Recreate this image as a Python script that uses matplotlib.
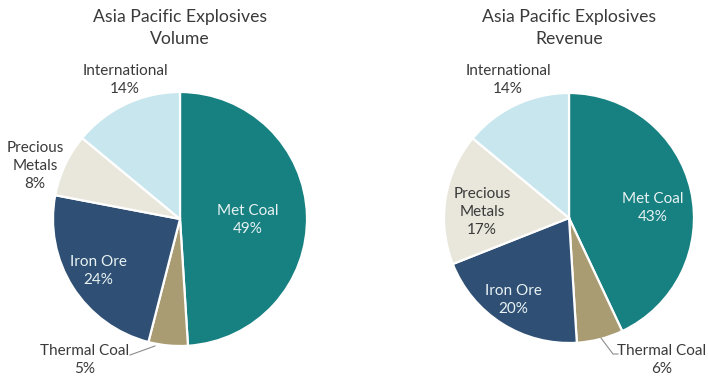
import matplotlib
matplotlib.use("Agg")
import matplotlib.pyplot as plt

categories = ["Met Coal", "Thermal Coal", "Iron Ore", "Precious Metals", "International"]
label_text = ["Met Coal", "Thermal Coal", "Iron Ore", "Precious\nMetals", "International"]
volume = [49, 5, 24, 8, 14]
revenue = [43, 6, 20, 17, 14]
titles = ["Asia Pacific Explosives\nVolume", "Asia Pacific Explosives\nRevenue"]

colors = ["#178081", "#a99b72", "#2f5074", "#e9e7dc", "#c8e6ee"]
text_dark = "#3a3a3a"
text_light = "#e8f2f2"

W, H = 708, 379
fig = plt.figure(figsize=(W / 100, H / 100), dpi=100)
FONT = "Lato"

# layout: (center x px, center y px from top, radius px)
layouts = [(180, 219, 127), (569, 218, 125)]
label_pos = [
    [(0.535, -0.008), (-0.748, -1.11), (-0.646, -0.41), (-1.142, 0.417), (-0.433, 1.094)],
    [(0.672, 0.08), (0.744, -1.136), (-0.448, -0.656), (-0.696, 0.048), (-0.488, 1.104)],
]
inside = [
    [True, False, True, False, False],
    [True, False, True, False, False],
]
leaders = [
    [(-0.394, -1.071), (-0.197, -1.0)],
    [(0.392, -1.088), (0.352, -1.088), (0.256, -0.96)],
]

for k, (vals, title) in enumerate(zip([volume, revenue], titles)):
    cx, cy, R = layouts[k]
    S = 360
    ax = fig.add_axes([(cx - S / 2) / W, ((H - cy) - S / 2) / H, S / W, S / H])
    ax.pie(vals, colors=colors, startangle=90, counterclock=False, radius=1,
           wedgeprops=dict(edgecolor="white", linewidth=1.6))
    lim = S / (2 * R)
    ax.set_xlim(-lim, lim)
    ax.set_ylim(-lim, lim)
    ax.set_aspect("equal")
    ax.axis("off")
    for i, (lab, v) in enumerate(zip(label_text, vals)):
        x, y = label_pos[k][i]
        col = text_light if inside[k][i] else text_dark
        ax.text(x, y, f"{lab}\n{v}%", ha="center", va="center", fontsize=11,
                color=col, family=FONT, linespacing=1.38, clip_on=False)
    lx = [p[0] for p in leaders[k]]
    ly = [p[1] for p in leaders[k]]
    ax.plot(lx, ly, color="#8c8c8c", lw=0.8, clip_on=False)
    fig.text(cx / W, 1 - 28 / H, title, ha="center", va="center", fontsize=12.7,
             color=text_dark, family=FONT, linespacing=1.4)

fig.savefig("out.png", dpi=100)
